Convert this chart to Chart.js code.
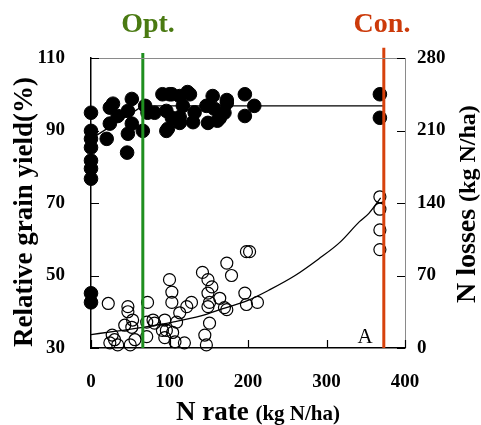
<!DOCTYPE html>
<html><head><meta charset="utf-8">
<script src="https://cdn.jsdelivr.net/npm/chart.js@4.4.1/dist/chart.umd.min.js"></script>
<style>html,body{margin:0;padding:0;background:#fff;}#wrap{width:481px;height:425px;position:relative;}</style>
</head><body><div id="wrap"><canvas id="c" width="481" height="425"></canvas></div>
<script>
// ---- data ----
const yieldN   = [0,0,0,0,0,0,0,0,0, 24,28,52,34,47,24,52,20,47,46,66,72,69,81,91,103,96,96,100,113,126,117,103,98,113,155,147,157,173,170,149,161,196,208,196,132,130,113,164,173,123,368,368];
const yieldPct = [94.9,89.9,87.7,85.3,81.7,79.5,76.7,45.1,42.6, 96.3,97.4,98.7,94,95.4,91.9,91.9,87.7,89.1,83.9,89.9,94.9,96.8,94.9,100,100,95.4,89.9,100,99.5,100,96.8,93.5,90.5,92.1,99.5,96.8,96,97.6,94.9,92.1,92.7,100,96.8,94,95,92.3,93.7,93.4,98.4,100.6,100,93.5];
const lossN  = [22,47,47,53,43,52,27,30,24,34,56,50,72,71,71,79,81,94,96,94,104,107,91, 100,103,103,128,122,113,109,119,142,149,154,149,151,149,164,173,179,198,202,196,198,212,170,173,151,145,147, 368,368,368,368];
const lossKg = [43,40,35,27,22,20,12.5,8,5,3,8,3,44,25,11,27,24,27,17,10,15,6,17, 66,54,44,44,40,34,25,5,73,66,59,53,44,40,48,82,70,93,93,53,42,44,39,37,24,12.5,3, 146,134,114,95];
const yieldFitN   = [0, 66, 373];
const yieldFitPct = [87.7, 96.8, 96.8];
const lossFitN  = [0, 30, 66, 104, 140, 168, 200, 227, 260, 290, 317, 342, 354, 369];
const lossFitKg = [13, 16, 20, 25, 31, 38, 46, 56, 70, 86, 102, 122, 130, 145];
const optN = 66, conN = 373;
const xTicks = [0, 100, 200, 300, 400];
const yLeftTicks = [30, 50, 70, 90, 110];
const yRightTicks = [0, 70, 140, 210, 280];

const SERIF = "'Liberation Serif','Times New Roman',serif";
const pts = (xs, ys) => xs.map((x, i) => ({x: x, y: ys[i]}));

const deco = {
  id: 'deco',
  afterDraw(chart) {
    const ctx = chart.ctx, a = chart.chartArea;
    const sx = chart.scales.x, sy = chart.scales.y, sy2 = chart.scales.y2;
    ctx.save();
    // top border (gray)
    ctx.strokeStyle = '#8a8a8a'; ctx.lineWidth = 1;
    ctx.beginPath(); ctx.moveTo(a.left, a.top + 0.5); ctx.lineTo(a.right, a.top + 0.5); ctx.stroke();
    // inward tick marks
    ctx.strokeStyle = '#000'; ctx.lineWidth = 1.2;
    ctx.beginPath();
    yLeftTicks.forEach(v => { const p = Math.round(sy.getPixelForValue(v)) + 0.5; ctx.moveTo(a.left, p); ctx.lineTo(a.left + 8, p); });
    yRightTicks.forEach(v => { const p = Math.round(sy2.getPixelForValue(v)) + 0.5; ctx.moveTo(a.right, p); ctx.lineTo(a.right - 8, p); });
    xTicks.forEach(v => { const p = Math.round(sx.getPixelForValue(v)) + 0.5; ctx.moveTo(p, a.bottom); ctx.lineTo(p, a.bottom - 8); });
    ctx.stroke();

    ctx.fillStyle = '#000';
    ctx.textBaseline = 'alphabetic';
    // left title
    ctx.save();
    ctx.translate(32, 212); ctx.rotate(-Math.PI / 2);
    ctx.textAlign = 'center';
    ctx.font = 'bold 27px ' + SERIF;
    ctx.fillText('Relative grain yield(%)', 0, 0);
    ctx.restore();
    // right title
    ctx.save();
    ctx.translate(475, 303); ctx.rotate(-Math.PI / 2);
    ctx.textAlign = 'left';
    ctx.font = 'bold 28px ' + SERIF;
    const w1 = ctx.measureText('N losses ').width;
    ctx.fillText('N losses', 0, 0);
    ctx.font = 'bold 24px ' + SERIF;
    ctx.fillText('(kg N/ha)', w1, 0);
    ctx.restore();
    // x title
    ctx.font = 'bold 27px ' + SERIF;
    const t1 = 'N rate ';
    const wa = ctx.measureText(t1).width;
    ctx.font = 'bold 21px ' + SERIF;
    const t2 = '(kg N/ha)';
    const wb = ctx.measureText(t2).width;
    let x0 = 258 - (wa + wb) / 2;
    ctx.textAlign = 'left';
    ctx.font = 'bold 27px ' + SERIF;
    ctx.fillText(t1, x0, 420);
    ctx.font = 'bold 21px ' + SERIF;
    ctx.fillText(t2, x0 + wa, 420);
    // Opt / Con labels
    ctx.textAlign = 'center';
    ctx.font = 'bold 28px ' + SERIF;
    ctx.fillStyle = '#4a7a12';
    ctx.fillText('Opt.', 148, 32);
    ctx.fillStyle = '#cc3a0a';
    ctx.fillText('Con.', 382, 32);
    // panel letter
    ctx.fillStyle = '#000';
    ctx.font = '21px ' + SERIF;
    ctx.fillText('A', 365, 343);
    ctx.restore();
  }
};

const tickFont = {family: SERIF, weight: 'bold', size: 19};

new Chart(document.getElementById('c'), {
  type: 'scatter',
  data: {
    datasets: [
      {label: 'Opt.', data: [{x: optN, y: 30}, {x: optN, y: 111.4}], yAxisID: 'y', showLine: true,
       borderColor: '#1f8f1f', borderWidth: 3, pointRadius: 0, clip: false, order: 0},
      {label: 'Con.', data: [{x: conN, y: 30}, {x: conN, y: 112.8}], yAxisID: 'y', showLine: true,
       borderColor: '#d7410c', borderWidth: 3, pointRadius: 0, clip: false, order: 0},
      {label: 'yield', data: pts(yieldN, yieldPct), yAxisID: 'y', pointRadius: 6.8,
       backgroundColor: '#000', borderColor: '#000', borderWidth: 1, clip: false, order: 1},
      {label: 'yield fit', data: pts(yieldFitN, yieldFitPct), yAxisID: 'y', showLine: true,
       borderColor: '#000', borderWidth: 1.3, pointRadius: 0, order: 2},
      {label: 'loss', data: pts(lossN, lossKg), yAxisID: 'y2', pointRadius: 6,
       backgroundColor: 'rgba(0,0,0,0)', borderColor: '#000', borderWidth: 1.2, clip: false, order: 3},
      {label: 'loss fit', data: pts(lossFitN, lossFitKg), yAxisID: 'y2', showLine: true,
       borderColor: '#000', borderWidth: 1.3, pointRadius: 0, cubicInterpolationMode: 'monotone', order: 4}
    ]
  },
  options: {
    responsive: false, animation: false, devicePixelRatio: 1,
    layout: {padding: {top: 58, left: 0, right: 0, bottom: 0}},
    plugins: {legend: {display: false}, tooltip: {enabled: false}},
    scales: {
      x: {type: 'linear', min: 0, max: 400, position: 'bottom',
          afterBuildTicks: s => { s.ticks = xTicks.map(v => ({value: v})); },
          afterFit: s => { s.height = 77; },
          grid: {display: false, drawTicks: false},
          border: {display: true, color: '#000', width: 1.5},
          ticks: {font: tickFont, color: '#000', padding: 23, maxRotation: 0}},
      y: {type: 'linear', min: 30, max: 110, position: 'left',
          afterBuildTicks: s => { s.ticks = yLeftTicks.map(v => ({value: v})); },
          afterFit: s => { s.width = 91; },
          grid: {display: false, drawTicks: false},
          border: {display: true, color: '#000', width: 1.5},
          ticks: {font: tickFont, color: '#000', padding: 26}},
      y2: {type: 'linear', min: 0, max: 280, position: 'right',
          afterBuildTicks: s => { s.ticks = yRightTicks.map(v => ({value: v})); },
          afterFit: s => { s.width = 76; },
          grid: {display: false, drawTicks: false},
          border: {display: true, color: '#8a8a8a', width: 1},
          ticks: {font: tickFont, color: '#000', padding: 12}}
    }
  },
  plugins: [deco]
});
</script></body></html>
